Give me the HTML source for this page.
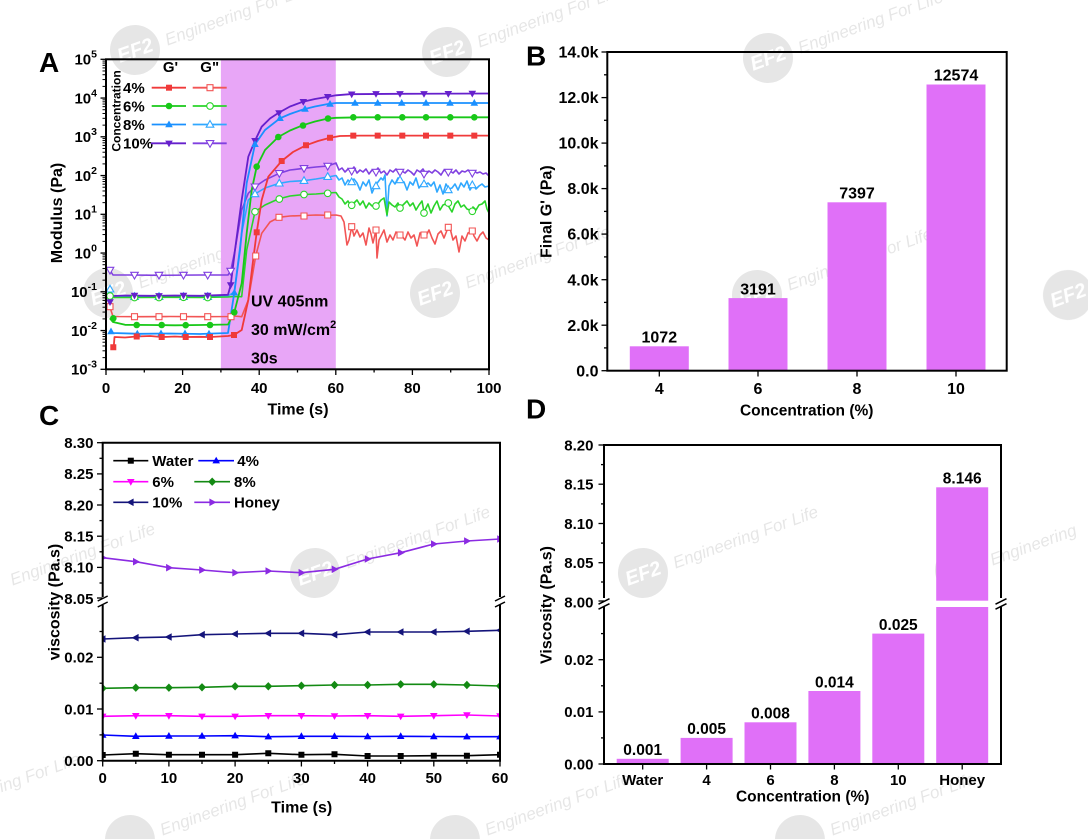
<!DOCTYPE html>
<html><head><meta charset="utf-8"><style>
html,body{margin:0;padding:0;background:#fff;}
svg{display:block;font-family:"Liberation Sans",Arial,sans-serif;font-weight:bold;}
</style></head><body>
<svg xmlns="http://www.w3.org/2000/svg" xmlns:xlink="http://www.w3.org/1999/xlink" width="1088" height="839" viewBox="0 0 1088 839">
<defs>
<path id="sq" d="M-3,-3h6v6h-6z"/>
<circle id="ci" cx="0" cy="0" r="3.3"/>
<path id="tu" d="M0,-4L3.8,2.7H-3.8Z"/>
<path id="td" d="M0,4L3.8,-2.7H-3.8Z"/>
<path id="dm" d="M0,-4.2L4,0L0,4.2L-4,0Z"/>
<path id="tl" d="M-4.2,0L2.8,-3.8V3.8Z"/>
<path id="tr" d="M4.2,0L-2.8,-3.8V3.8Z"/>
<g id="lm" stroke="#000" stroke-width="1">
<line x1="102.5" x2="106" y1="-11.66" y2="-11.66"/><line x1="102.5" x2="106" y1="-18.49" y2="-18.49"/>
<line x1="102.5" x2="106" y1="-23.33" y2="-23.33"/><line x1="102.5" x2="106" y1="-27.09" y2="-27.09"/>
<line x1="102.5" x2="106" y1="-30.15" y2="-30.15"/><line x1="102.5" x2="106" y1="-32.75" y2="-32.75"/>
<line x1="102.5" x2="106" y1="-34.99" y2="-34.99"/><line x1="102.5" x2="106" y1="-36.98" y2="-36.98"/>
</g>
<clipPath id="clipA"><rect x="106" y="59.3" width="383" height="310"/></clipPath>
<clipPath id="clipC"><rect x="102.7" y="442.7" width="397.3" height="318"/></clipPath>
</defs>

<!-- watermarks -->
<g opacity="0.1" font-style="italic" font-weight="normal">
<g transform="translate(135,50) rotate(-20)"><circle r="25" fill="#000"/><text y="7" text-anchor="middle" font-size="20" font-weight="bold" fill="#fff">EF2</text><text x="32" y="7" font-size="17" fill="#000">Engineering For Life</text></g>
<g transform="translate(447,52) rotate(-20)"><circle r="25" fill="#000"/><text y="7" text-anchor="middle" font-size="20" font-weight="bold" fill="#fff">EF2</text><text x="32" y="7" font-size="17" fill="#000">Engineering For Life</text></g>
<g transform="translate(768,58) rotate(-20)"><circle r="25" fill="#000"/><text y="7" text-anchor="middle" font-size="20" font-weight="bold" fill="#fff">EF2</text><text x="32" y="7" font-size="17" fill="#000">Engineering For Life</text></g>
<g transform="translate(1068,295) rotate(-20)"><circle r="25" fill="#000"/><text y="7" text-anchor="middle" font-size="20" font-weight="bold" fill="#fff">EF2</text></g>
<g transform="translate(108,293) rotate(-20)"><circle r="25" fill="#000"/><text y="7" text-anchor="middle" font-size="20" font-weight="bold" fill="#fff">EF2</text><text x="32" y="7" font-size="17" fill="#000">Engineering For Life</text></g>
<g transform="translate(435,293) rotate(-20)"><circle r="25" fill="#000"/><text y="7" text-anchor="middle" font-size="20" font-weight="bold" fill="#fff">EF2</text><text x="32" y="7" font-size="17" fill="#000">Engineering For Life</text></g>
<g transform="translate(757,295) rotate(-20)"><circle r="25" fill="#000"/><text y="7" text-anchor="middle" font-size="20" font-weight="bold" fill="#fff">EF2</text><text x="32" y="7" font-size="17" fill="#000">Engineering For Life</text></g>
<g transform="translate(-20,590) rotate(-20)"><text x="32" y="7" font-size="17" fill="#000">Engineering For Life</text></g>
<g transform="translate(315,573) rotate(-20)"><circle r="25" fill="#000"/><text y="7" text-anchor="middle" font-size="20" font-weight="bold" fill="#fff">EF2</text><text x="32" y="7" font-size="17" fill="#000">Engineering For Life</text></g>
<g transform="translate(643,573) rotate(-20)"><circle r="25" fill="#000"/><text y="7" text-anchor="middle" font-size="20" font-weight="bold" fill="#fff">EF2</text><text x="32" y="7" font-size="17" fill="#000">Engineering For Life</text></g>
<g transform="translate(960,570) rotate(-20)"><circle r="25" fill="#000"/><text y="7" text-anchor="middle" font-size="20" font-weight="bold" fill="#fff">EF2</text><text x="32" y="7" font-size="17" fill="#000">Engineering</text></g>
<g transform="translate(-95,820) rotate(-20)"><text x="32" y="7" font-size="17" fill="#000">Engineering For Life</text></g>
<g transform="translate(130,840) rotate(-20)"><circle r="25" fill="#000"/><text x="32" y="7" font-size="17" fill="#000">Engineering For Life</text></g>
<g transform="translate(455,840) rotate(-20)"><circle r="25" fill="#000"/><text x="32" y="7" font-size="17" fill="#000">Engineering For Life</text></g>
<g transform="translate(800,840) rotate(-20)"><circle r="25" fill="#000"/><text x="32" y="7" font-size="17" fill="#000">Engineering For Life</text></g>
</g>

<!-- ================= PANEL A ================= -->
<rect x="220.9" y="59.3" width="114.9" height="310" fill="#e8a6f7"/>
<g clip-path="url(#clipA)" fill="none" stroke-width="1.6" stroke-linejoin="round">
<polyline stroke="#8040e0" points="109.8,270 113,275 130,275 160,275.3 200,275 228,275 230.7,271 235,250 241.7,210 248.3,193.3 255,186.7 265,180 279.3,173.3 290,170 304,168.3 316,167 328,166 336,163 339,170 342,168 345,172 348,169 351,171 354,167 357,173 360,170 363,172 366,169 369,174 372,170 375,172 378,168 381,173 384,171 387,175 390,170 393,172 396,169 399,174 402,171 405,173 408,170 411,172 414,175 417,170 420,172 423,169 426,174 429,171 432,173 435,170 438,172 441,175 444,170 447,172 450,171 453,173 456,170 459,174 462,171 465,172 468,170 471,173 474,171 477,173 480,172 483,174 486,173 489,176"/>
<polyline stroke="#30a8ff" points="109.8,289.3 113,296 140,296.7 170,296.5 200,296.8 228,296 234.3,292 241.7,233 248.3,200 255,194 265,188 279.3,183.3 290,181.5 304,180.7 316,179 328,177 336,175.5 339,180 342,178 345,185 348,180 351,183 354,179 357,183 360,190 363,182 366,186 369,180 372,193 375,186 378,182 381,178 383,180 385,175 387,216 389,186 392,180 395,184 398,178 401,181 404,182 407,190 410,182 413,185 416,178 419,188 422,184 425,185 428,183 431,186 434,182 437,192 440,185 443,194 446,184 449,189 452,188 455,184 458,190 461,183 464,187 467,181 470,190 473,185 476,189 479,186 482,184 485,187 489,186"/>
<polyline stroke="#2ad42a" points="109.8,296 113,297.5 140,297.5 170,297.3 200,297.5 228,297 234.3,296.5 241.7,296.7 246.7,250 255,211.7 265,205 278.3,199 290,196 304,194.5 316,194 328,193 336,192.5 339,197 342,199 345,204 348,201 351,206 354,203 357,200 360,205 363,201 366,208 369,203 372,206 376,206 378,204 381,200 384,198 387,215 389,202 392,205 395,207 398,203 400,208 404,204 407,201 410,206 413,203 416,210 419,205 422,201 424,212 428,204 431,213 434,206 437,201 440,210 443,205 448,203 449,207 452,212 455,204 458,201 461,207 464,205 467,209 472,211 473,207 476,210 479,205 482,204 485,201 487,209 489,213"/>
<polyline stroke="#f25555" points="109.8,306.7 113,316.5 140,316.7 170,316.5 200,316.7 228,316.5 234,316 241.7,316.7 248.3,300 255.7,256 261.7,233.3 270,222 279,217.3 290,216 304,215.5 316,215 328,215.3 336,215 341,216 344,222 347,245 349,240 351.7,227 354,236 357,230 360,237 363,233 366,245 369,228 371,234 373,243 376,230 377,258 379,240 381,236 384,230 387,242 390,235 393,240 396,232 400,235 402,236 405,240 408,232 411,238 414,235 417,246 420,233 424,235 426,236 429,230 432,238 435,244 438,234 441,231 444,238 448.3,227 450,228 453,240 456,236 459,252 462,236 465,241 468,233 472.3,231 474,236 477,241 480,235 483,232 486,238 489,240"/>
<polyline stroke="#6620cc" stroke-width="1.8" points="109.8,303 113,296 125,295.5 150,295.8 175,295.5 200,295.8 228,294.8 230.7,285 235,250 241.7,200 248.3,156.7 255,140.7 261.7,126.7 270,118.5 278.3,113 290,106.5 303,101.7 315,99 328,96.7 336,95.3 350,94.2 400,93.8 489,93.5"/>
<polyline stroke="#1a90ff" stroke-width="1.8" points="109.8,331 113,333 140,333.8 170,333.5 200,334 228,333 234.3,292.7 240,250 246.7,183 255,144.3 265,130 280,118.3 290,114 303,109.5 315,106.5 328,104 336,103 360,103 489,103"/>
<polyline stroke="#18c818" stroke-width="1.8" points="109.8,318.3 113,322 125,324.8 150,325 175,325.3 200,325 228,324.5 234.3,312.3 241.7,283.3 246.7,233 251.7,190 256.7,166.7 265,150 278.3,137 290,130.5 303,125.2 315,121.5 328,118.5 336,117.8 360,117.3 489,117.3"/>
<polyline stroke="#f03a3a" stroke-width="1.8" points="113.7,347.3 114.5,337 125,337.5 136.6,336.5 150,336 161.7,337 175,336.5 185.7,337 200,336.8 210,337 228,336 234,335 241.7,330 248.3,300 252.3,266.7 256.7,232.3 261.7,200 268.3,176.7 281.7,161 293,152 306,145.3 318,141 330,137.7 340,136 360,135.6 489,135.6"/>
</g>
<g clip-path="url(#clipA)">
<g fill="#fff" stroke="#8040e0" stroke-width="1.1">
<use href="#td" x="110" y="270"/><use href="#td" x="134.5" y="275"/><use href="#td" x="159" y="275"/><use href="#td" x="183.5" y="275"/><use href="#td" x="207.7" y="275"/><use href="#td" x="230.7" y="271"/><use href="#td" x="255" y="186.7"/><use href="#td" x="279.3" y="173.3"/><use href="#td" x="304" y="168.3"/><use href="#td" x="327.7" y="166"/><use href="#td" x="351.7" y="171"/><use href="#td" x="376" y="172"/><use href="#td" x="400" y="172"/><use href="#td" x="424" y="174"/><use href="#td" x="448.3" y="172"/><use href="#td" x="472.3" y="173"/>
</g>
<g fill="#fff" stroke="#30a8ff" stroke-width="1.1">
<use href="#tu" x="110" y="289.3"/><use href="#tu" x="134.5" y="296.7"/><use href="#tu" x="159" y="296.7"/><use href="#tu" x="183.5" y="296.7"/><use href="#tu" x="207.7" y="296.7"/><use href="#tu" x="255" y="194"/><use href="#tu" x="279.3" y="183.3"/><use href="#tu" x="304" y="180.7"/><use href="#tu" x="327.7" y="176.7"/><use href="#tu" x="351.7" y="182"/><use href="#tu" x="376" y="186"/><use href="#tu" x="400" y="180"/><use href="#tu" x="424" y="184"/><use href="#tu" x="448.3" y="190"/><use href="#tu" x="472.3" y="185"/>
</g>
<g fill="#fff" stroke="#2ad42a" stroke-width="1.1">
<use href="#ci" x="110" y="296"/><use href="#ci" x="134.5" y="297.5"/><use href="#ci" x="159" y="297.5"/><use href="#ci" x="183.5" y="297.3"/><use href="#ci" x="207.7" y="297.5"/><use href="#ci" x="255" y="211.7"/><use href="#ci" x="279.3" y="199"/><use href="#ci" x="304" y="194.5"/><use href="#ci" x="327.7" y="193.3"/><use href="#ci" x="351.7" y="205.3"/><use href="#ci" x="376" y="206"/><use href="#ci" x="400" y="208"/><use href="#ci" x="424" y="213"/><use href="#ci" x="448.3" y="203"/><use href="#ci" x="472.3" y="211.3"/>
</g>
<g fill="#fff" stroke="#f25555" stroke-width="1.1">
<use href="#sq" x="110" y="306.7"/><use href="#sq" x="134.5" y="316.7"/><use href="#sq" x="159" y="316.7"/><use href="#sq" x="183.5" y="316.7"/><use href="#sq" x="207.7" y="316.7"/><use href="#sq" x="231" y="316.7"/><use href="#sq" x="255.7" y="256"/><use href="#sq" x="279" y="217.3"/><use href="#sq" x="304" y="216"/><use href="#sq" x="327.7" y="215"/><use href="#sq" x="351.7" y="226.7"/><use href="#sq" x="376" y="230"/><use href="#sq" x="400" y="235"/><use href="#sq" x="424" y="235"/><use href="#sq" x="448.3" y="227.3"/><use href="#sq" x="472.3" y="231"/>
</g>
<g fill="#6620cc">
<use href="#td" x="110" y="302"/><use href="#td" x="134.5" y="295.5"/><use href="#td" x="159" y="295.8"/><use href="#td" x="183.5" y="295.5"/><use href="#td" x="207.7" y="295.5"/><use href="#td" x="230.7" y="285"/><use href="#td" x="255" y="140.7"/><use href="#td" x="279" y="113"/><use href="#td" x="303.3" y="101.7"/><use href="#td" x="327.7" y="96.7"/><use href="#td" x="351.7" y="94.2"/><use href="#td" x="376" y="93.8"/><use href="#td" x="400" y="93.8"/><use href="#td" x="424" y="93.8"/><use href="#td" x="448.3" y="93.7"/><use href="#td" x="472.3" y="93.5"/>
</g>
<g fill="#1a90ff">
<use href="#tu" x="111" y="331.5"/><use href="#tu" x="137.3" y="333.7"/><use href="#tu" x="161" y="333.5"/><use href="#tu" x="185" y="333.5"/><use href="#tu" x="209" y="333.8"/><use href="#tu" x="234.3" y="292.7"/><use href="#tu" x="255" y="144.3"/><use href="#tu" x="280" y="118.3"/><use href="#tu" x="305" y="109"/><use href="#tu" x="330" y="104"/><use href="#tu" x="355" y="103"/><use href="#tu" x="377.7" y="103"/><use href="#tu" x="401.7" y="103"/><use href="#tu" x="426" y="103"/><use href="#tu" x="450" y="103"/><use href="#tu" x="474.3" y="103"/>
</g>
<g fill="#18c818">
<use href="#ci" x="113.3" y="318.3"/><use href="#ci" x="136.7" y="325"/><use href="#ci" x="161.7" y="325"/><use href="#ci" x="185.7" y="325.2"/><use href="#ci" x="210" y="325"/><use href="#ci" x="234.3" y="312.3"/><use href="#ci" x="256.7" y="166.7"/><use href="#ci" x="278.3" y="137"/><use href="#ci" x="303" y="125.5"/><use href="#ci" x="328" y="118.5"/><use href="#ci" x="353.3" y="117.3"/><use href="#ci" x="377.7" y="117.3"/><use href="#ci" x="402.3" y="117.3"/><use href="#ci" x="426" y="117.3"/><use href="#ci" x="450.3" y="117.3"/><use href="#ci" x="474.3" y="117.3"/>
</g>
<g fill="#f03a3a">
<use href="#sq" x="113.3" y="347.3"/><use href="#sq" x="136.7" y="336.5"/><use href="#sq" x="161.7" y="337"/><use href="#sq" x="185.7" y="337"/><use href="#sq" x="210" y="337"/><use href="#sq" x="234" y="335"/><use href="#sq" x="256.7" y="232.3"/><use href="#sq" x="281.7" y="161"/><use href="#sq" x="306" y="145.3"/><use href="#sq" x="330" y="137.7"/><use href="#sq" x="353.3" y="135.6"/><use href="#sq" x="377.7" y="135.6"/><use href="#sq" x="402.3" y="135.6"/><use href="#sq" x="426" y="135.6"/><use href="#sq" x="450.3" y="135.6"/><use href="#sq" x="474.3" y="135.6"/>
</g>
</g>
<!-- A legend -->
<text x="170.5" y="72" font-size="15" text-anchor="middle">G'</text>
<text x="209.7" y="72" font-size="15" text-anchor="middle">G"</text>
<text transform="translate(120.5,111) rotate(-90)" font-size="12" text-anchor="middle">Concentration</text>
<g font-size="15">
<text x="123" y="93">4%</text><text x="123" y="111.3">6%</text><text x="123" y="129.8">8%</text><text x="123" y="148.6">10%</text>
</g>
<g stroke-width="1.8">
<line x1="151.7" x2="186" y1="87.7" y2="87.7" stroke="#f03a3a"/><line x1="192.7" x2="226.7" y1="87.7" y2="87.7" stroke="#f25555"/>
<line x1="151.7" x2="186" y1="106" y2="106" stroke="#18c818"/><line x1="192.7" x2="226.7" y1="106" y2="106" stroke="#2ad42a"/>
<line x1="151.7" x2="186" y1="124.5" y2="124.5" stroke="#1a90ff"/><line x1="192.7" x2="226.7" y1="124.5" y2="124.5" stroke="#30a8ff"/>
<line x1="151" x2="186" y1="143.3" y2="143.3" stroke="#6620cc"/><line x1="192.7" x2="226.7" y1="143.3" y2="143.3" stroke="#8040e0"/>
</g>
<use href="#sq" x="169" y="87.7" fill="#f03a3a"/><use href="#sq" x="210" y="87.7" fill="#fff" stroke="#f25555" stroke-width="1.1"/>
<use href="#ci" x="169" y="106" fill="#18c818"/><use href="#ci" x="210" y="106" fill="#fff" stroke="#2ad42a" stroke-width="1.1"/>
<use href="#tu" x="169" y="124.5" fill="#1a90ff"/><use href="#tu" x="210" y="124.5" fill="#fff" stroke="#30a8ff" stroke-width="1.1"/>
<use href="#td" x="169" y="143.3" fill="#6620cc"/><use href="#td" x="210" y="143.3" fill="#fff" stroke="#8040e0" stroke-width="1.1"/>
<!-- UV text -->
<text x="251" y="306.7" font-size="16">UV 405nm</text>
<text x="251" y="335" font-size="16">30 mW/cm<tspan dy="-7" font-size="11">2</tspan></text>
<text x="251" y="363.3" font-size="16">30s</text>
<!-- A axes -->
<rect x="106" y="59.3" width="383" height="310" fill="none" stroke="#000" stroke-width="2"/>
<g stroke="#000" stroke-width="1.3">
<line x1="100.5" x2="106" y1="59.3" y2="59.3"/><line x1="100.5" x2="106" y1="98.05" y2="98.05"/><line x1="100.5" x2="106" y1="136.8" y2="136.8"/><line x1="100.5" x2="106" y1="175.55" y2="175.55"/><line x1="100.5" x2="106" y1="214.3" y2="214.3"/><line x1="100.5" x2="106" y1="253.05" y2="253.05"/><line x1="100.5" x2="106" y1="291.8" y2="291.8"/><line x1="100.5" x2="106" y1="330.55" y2="330.55"/><line x1="100.5" x2="106" y1="369.3" y2="369.3"/>
<line x1="106" x2="106" y1="369" y2="375"/><line x1="182.6" x2="182.6" y1="369" y2="375"/><line x1="259.2" x2="259.2" y1="369" y2="375"/><line x1="335.8" x2="335.8" y1="369" y2="375"/><line x1="412.4" x2="412.4" y1="369" y2="375"/><line x1="489" x2="489" y1="369" y2="375"/>
<line x1="144.3" x2="144.3" y1="369" y2="372.5"/><line x1="220.9" x2="220.9" y1="369" y2="372.5"/><line x1="297.5" x2="297.5" y1="369" y2="372.5"/><line x1="374.1" x2="374.1" y1="369" y2="372.5"/><line x1="450.7" x2="450.7" y1="369" y2="372.5"/>
</g>
<use href="#lm" y="369.3"/><use href="#lm" y="330.55"/><use href="#lm" y="291.8"/><use href="#lm" y="253.05"/><use href="#lm" y="214.3"/><use href="#lm" y="175.55"/><use href="#lm" y="136.8"/><use href="#lm" y="98.05"/>
<g font-size="15" text-anchor="end">
<text x="97" y="64.5">10<tspan dy="-7" font-size="10.5">5</tspan></text>
<text x="97" y="103.3">10<tspan dy="-7" font-size="10.5">4</tspan></text>
<text x="97" y="142">10<tspan dy="-7" font-size="10.5">3</tspan></text>
<text x="97" y="180.8">10<tspan dy="-7" font-size="10.5">2</tspan></text>
<text x="97" y="219.5">10<tspan dy="-7" font-size="10.5">1</tspan></text>
<text x="97" y="258.3">10<tspan dy="-7" font-size="10.5">0</tspan></text>
<text x="97" y="297">10<tspan dy="-7" font-size="10.5">-1</tspan></text>
<text x="97" y="335.8">10<tspan dy="-7" font-size="10.5">-2</tspan></text>
<text x="97" y="374.5">10<tspan dy="-7" font-size="10.5">-3</tspan></text>
</g>
<g font-size="15" text-anchor="middle">
<text x="106" y="393">0</text><text x="182.6" y="393">20</text><text x="259.2" y="393">40</text><text x="335.8" y="393">60</text><text x="412.4" y="393">80</text><text x="489" y="393">100</text>
</g>
<text x="298" y="414.5" font-size="16" text-anchor="middle">Time (s)</text>
<text transform="translate(62,213) rotate(-90)" font-size="16" text-anchor="middle">Modulus (Pa)</text>
<text x="39" y="72" font-size="28">A</text>

<!-- ================= PANEL B ================= -->
<g fill="#e070f8">
<rect x="629.8" y="346.3" width="59" height="24.4"/>
<rect x="728.5" y="298.1" width="59" height="72.6"/>
<rect x="827.5" y="202.3" width="59" height="168.4"/>
<rect x="926.5" y="84.5" width="59" height="286.2"/>
</g>
<rect x="607.3" y="52" width="399.4" height="318.7" fill="none" stroke="#000" stroke-width="2"/>
<g stroke="#000" stroke-width="1.3">
<line x1="601.5" x2="607.3" y1="370.7" y2="370.7"/><line x1="601.5" x2="607.3" y1="325.2" y2="325.2"/><line x1="601.5" x2="607.3" y1="279.7" y2="279.7"/><line x1="601.5" x2="607.3" y1="234.1" y2="234.1"/><line x1="601.5" x2="607.3" y1="188.6" y2="188.6"/><line x1="601.5" x2="607.3" y1="143.1" y2="143.1"/><line x1="601.5" x2="607.3" y1="97.6" y2="97.6"/><line x1="601.5" x2="607.3" y1="52" y2="52"/>
<line x1="604" x2="607.3" y1="347.9" y2="347.9"/><line x1="604" x2="607.3" y1="302.4" y2="302.4"/><line x1="604" x2="607.3" y1="256.9" y2="256.9"/><line x1="604" x2="607.3" y1="211.4" y2="211.4"/><line x1="604" x2="607.3" y1="165.9" y2="165.9"/><line x1="604" x2="607.3" y1="120.3" y2="120.3"/><line x1="604" x2="607.3" y1="74.8" y2="74.8"/>
<line x1="659.3" x2="659.3" y1="370.7" y2="376.5"/><line x1="758" x2="758" y1="370.7" y2="376.5"/><line x1="857" x2="857" y1="370.7" y2="376.5"/><line x1="956" x2="956" y1="370.7" y2="376.5"/>
</g>
<g font-size="16" text-anchor="end">
<text x="598.5" y="376.3">0.0</text><text x="598.5" y="330.8">2.0k</text><text x="598.5" y="285.3">4.0k</text><text x="598.5" y="239.7">6.0k</text><text x="598.5" y="194.2">8.0k</text><text x="598.5" y="148.7">10.0k</text><text x="598.5" y="103.2">12.0k</text><text x="598.5" y="57.6">14.0k</text>
</g>
<g font-size="16" text-anchor="middle">
<text x="659.3" y="394">4</text><text x="758" y="394">6</text><text x="857" y="394">8</text><text x="956" y="394">10</text>
<text x="659.3" y="342.5">1072</text><text x="758" y="294.3">3191</text><text x="857" y="198.5">7397</text><text x="956" y="80.7">12574</text>
</g>
<text x="806.7" y="415.5" font-size="15.5" text-anchor="middle">Concentration (%)</text>
<text transform="translate(551.5,211.7) rotate(-90)" font-size="16" text-anchor="middle">Final G' (Pa)</text>
<text x="526" y="65.5" font-size="28">B</text>

<!-- ================= PANEL C ================= -->
<g clip-path="url(#clipC)">
<g fill="none" stroke-width="1.6" stroke-linejoin="round">
<polyline stroke="#8b2be2" points="102.7,557.7 135.8,561.7 168.9,567.7 202,570 235.1,572.7 268.3,571 301.4,572.7 334.5,569.3 367.6,559 400.7,552.7 433.8,544 466.9,541 500,539"/>
<polyline stroke="#14147a" points="102.7,639 135.8,637.7 168.9,637 202,634.7 235.1,634 268.3,633.3 301.4,633.3 334.5,634.7 367.6,632 400.7,632 433.8,632 466.9,631.3 500,630.3"/>
<polyline stroke="#138a13" points="102.7,688.3 135.8,687.7 168.9,687.7 202,687.3 235.1,686.3 268.3,686.3 301.4,685.7 334.5,685 367.6,685 400.7,684.3 433.8,684.3 466.9,685 500,686"/>
<polyline stroke="#ff00ff" points="102.7,716.3 135.8,715.7 168.9,715.7 202,716.3 235.1,716.3 268.3,715.7 301.4,715.7 334.5,716 367.6,715.7 400.7,716.3 433.8,715.7 466.9,715 500,716"/>
<polyline stroke="#0000ff" points="102.7,735 135.8,736.3 168.9,736 202,736 235.1,735.7 268.3,736.7 301.4,736.3 334.5,736.3 367.6,736.5 400.7,736.3 433.8,736.5 466.9,736.7 500,736.7"/>
<polyline stroke="#000" points="102.7,755 135.8,753.7 168.9,754.7 202,754.7 235.1,754.7 268.3,753.3 301.4,754.7 334.5,754.3 367.6,756 400.7,756 433.8,755.7 466.9,755.7 500,754.7"/>
</g>
<g fill="#8b2be2">
<use href="#tr" x="102.7" y="557.7"/><use href="#tr" x="135.8" y="561.7"/><use href="#tr" x="168.9" y="567.7"/><use href="#tr" x="202" y="570"/><use href="#tr" x="235.1" y="572.7"/><use href="#tr" x="268.3" y="571"/><use href="#tr" x="301.4" y="572.7"/><use href="#tr" x="334.5" y="569.3"/><use href="#tr" x="367.6" y="559"/><use href="#tr" x="400.7" y="552.7"/><use href="#tr" x="433.8" y="544"/><use href="#tr" x="466.9" y="541"/><use href="#tr" x="500" y="539"/>
</g>
<g fill="#14147a">
<use href="#tl" x="102.7" y="639"/><use href="#tl" x="135.8" y="637.7"/><use href="#tl" x="168.9" y="637"/><use href="#tl" x="202" y="634.7"/><use href="#tl" x="235.1" y="634"/><use href="#tl" x="268.3" y="633.3"/><use href="#tl" x="301.4" y="633.3"/><use href="#tl" x="334.5" y="634.7"/><use href="#tl" x="367.6" y="632"/><use href="#tl" x="400.7" y="632"/><use href="#tl" x="433.8" y="632"/><use href="#tl" x="466.9" y="631.3"/><use href="#tl" x="500" y="630.3"/>
</g>
<g fill="#138a13">
<use href="#dm" x="102.7" y="688.3"/><use href="#dm" x="135.8" y="687.7"/><use href="#dm" x="168.9" y="687.7"/><use href="#dm" x="202" y="687.3"/><use href="#dm" x="235.1" y="686.3"/><use href="#dm" x="268.3" y="686.3"/><use href="#dm" x="301.4" y="685.7"/><use href="#dm" x="334.5" y="685"/><use href="#dm" x="367.6" y="685"/><use href="#dm" x="400.7" y="684.3"/><use href="#dm" x="433.8" y="684.3"/><use href="#dm" x="466.9" y="685"/><use href="#dm" x="500" y="686"/>
</g>
<g fill="#ff00ff">
<use href="#td" x="102.7" y="716.3"/><use href="#td" x="135.8" y="715.7"/><use href="#td" x="168.9" y="715.7"/><use href="#td" x="202" y="716.3"/><use href="#td" x="235.1" y="716.3"/><use href="#td" x="268.3" y="715.7"/><use href="#td" x="301.4" y="715.7"/><use href="#td" x="334.5" y="716"/><use href="#td" x="367.6" y="715.7"/><use href="#td" x="400.7" y="716.3"/><use href="#td" x="433.8" y="715.7"/><use href="#td" x="466.9" y="715"/><use href="#td" x="500" y="716"/>
</g>
<g fill="#0000ff">
<use href="#tu" x="102.7" y="735"/><use href="#tu" x="135.8" y="736.3"/><use href="#tu" x="168.9" y="736"/><use href="#tu" x="202" y="736"/><use href="#tu" x="235.1" y="735.7"/><use href="#tu" x="268.3" y="736.7"/><use href="#tu" x="301.4" y="736.3"/><use href="#tu" x="334.5" y="736.3"/><use href="#tu" x="367.6" y="736.5"/><use href="#tu" x="400.7" y="736.3"/><use href="#tu" x="433.8" y="736.5"/><use href="#tu" x="466.9" y="736.7"/><use href="#tu" x="500" y="736.7"/>
</g>
<g fill="#000">
<use href="#sq" x="102.7" y="755"/><use href="#sq" x="135.8" y="753.7"/><use href="#sq" x="168.9" y="754.7"/><use href="#sq" x="202" y="754.7"/><use href="#sq" x="235.1" y="754.7"/><use href="#sq" x="268.3" y="753.3"/><use href="#sq" x="301.4" y="754.7"/><use href="#sq" x="334.5" y="754.3"/><use href="#sq" x="367.6" y="756"/><use href="#sq" x="400.7" y="756"/><use href="#sq" x="433.8" y="755.7"/><use href="#sq" x="466.9" y="755.7"/><use href="#sq" x="500" y="754.7"/>
</g>
</g>
<!-- C legend -->
<g stroke-width="1.6">
<line x1="113.3" x2="148.3" y1="460.7" y2="460.7" stroke="#000"/><line x1="198.3" x2="234" y1="460.7" y2="460.7" stroke="#0000ff"/>
<line x1="113.3" x2="148.3" y1="481.7" y2="481.7" stroke="#ff00ff"/><line x1="194.3" x2="230" y1="481.7" y2="481.7" stroke="#138a13"/>
<line x1="113.3" x2="148.3" y1="502.3" y2="502.3" stroke="#14147a"/><line x1="194.3" x2="230" y1="502.3" y2="502.3" stroke="#8b2be2"/>
</g>
<use href="#sq" x="130.8" y="460.7" fill="#000"/><use href="#tu" x="216.2" y="460.7" fill="#0000ff"/>
<use href="#td" x="130.8" y="481.7" fill="#ff00ff"/><use href="#dm" x="212.2" y="481.7" fill="#138a13"/>
<use href="#tl" x="130.8" y="502.3" fill="#14147a"/><use href="#tr" x="212.2" y="502.3" fill="#8b2be2"/>
<g font-size="15">
<text x="152.3" y="466">Water</text><text x="237.3" y="466">4%</text>
<text x="152.3" y="487">6%</text><text x="234" y="487">8%</text>
<text x="152.3" y="507.6">10%</text><text x="234" y="507.6">Honey</text>
</g>
<!-- C axes -->
<g stroke="#000" stroke-width="2" fill="none">
<line x1="101.7" x2="501" y1="442.7" y2="442.7"/>
<line x1="101.7" x2="501" y1="760.7" y2="760.7"/>
<line x1="102.7" x2="102.7" y1="442.7" y2="597"/>
<line x1="102.7" x2="102.7" y1="605" y2="760.7"/>
<line x1="500" x2="500" y1="442.7" y2="597"/>
<line x1="500" x2="500" y1="605" y2="760.7"/>
</g>
<g stroke="#000" stroke-width="1.5">
<line x1="97.7" y1="601" x2="107.7" y2="596"/><line x1="97.7" y1="607" x2="107.7" y2="602"/>
<line x1="495" y1="601" x2="505" y2="596"/><line x1="495" y1="607" x2="505" y2="602"/>
</g>
<g stroke="#000" stroke-width="1.3">
<line x1="97" x2="102.7" y1="442.7" y2="442.7"/><line x1="97" x2="102.7" y1="473.9" y2="473.9"/><line x1="97" x2="102.7" y1="505" y2="505"/><line x1="97" x2="102.7" y1="536.2" y2="536.2"/><line x1="97" x2="102.7" y1="567.4" y2="567.4"/><line x1="97" x2="102.7" y1="598" y2="598"/>
<line x1="99.5" x2="102.7" y1="458.3" y2="458.3"/><line x1="99.5" x2="102.7" y1="489.5" y2="489.5"/><line x1="99.5" x2="102.7" y1="520.6" y2="520.6"/><line x1="99.5" x2="102.7" y1="551.8" y2="551.8"/><line x1="99.5" x2="102.7" y1="583" y2="583"/>
<line x1="97" x2="102.7" y1="657.3" y2="657.3"/><line x1="97" x2="102.7" y1="709" y2="709"/><line x1="97" x2="102.7" y1="760.7" y2="760.7"/>
<line x1="99.5" x2="102.7" y1="631.5" y2="631.5"/><line x1="99.5" x2="102.7" y1="683.2" y2="683.2"/><line x1="99.5" x2="102.7" y1="734.9" y2="734.9"/>
<line x1="102.7" x2="102.7" y1="760.7" y2="766.5"/><line x1="168.9" x2="168.9" y1="760.7" y2="766.5"/><line x1="235.1" x2="235.1" y1="760.7" y2="766.5"/><line x1="301.4" x2="301.4" y1="760.7" y2="766.5"/><line x1="367.6" x2="367.6" y1="760.7" y2="766.5"/><line x1="433.8" x2="433.8" y1="760.7" y2="766.5"/><line x1="500" x2="500" y1="760.7" y2="766.5"/>
<line x1="135.8" x2="135.8" y1="760.7" y2="764"/><line x1="202" x2="202" y1="760.7" y2="764"/><line x1="268.3" x2="268.3" y1="760.7" y2="764"/><line x1="334.5" x2="334.5" y1="760.7" y2="764"/><line x1="400.7" x2="400.7" y1="760.7" y2="764"/><line x1="466.9" x2="466.9" y1="760.7" y2="764"/>
</g>
<g font-size="15" text-anchor="end">
<text x="93.5" y="448">8.30</text><text x="93.5" y="479.2">8.25</text><text x="93.5" y="510.3">8.20</text><text x="93.5" y="541.5">8.15</text><text x="93.5" y="572.7">8.10</text><text x="93.5" y="604">8.05</text>
<text x="93.5" y="662.6">0.02</text><text x="93.5" y="714.3">0.01</text><text x="93.5" y="766">0.00</text>
</g>
<g font-size="15" text-anchor="middle">
<text x="102.7" y="783">0</text><text x="168.9" y="783">10</text><text x="235.1" y="783">20</text><text x="301.4" y="783">30</text><text x="367.6" y="783">40</text><text x="433.8" y="783">50</text><text x="500" y="783">60</text>
</g>
<text x="301.7" y="812.5" font-size="16" text-anchor="middle">Time (s)</text>
<text transform="translate(59.5,602) rotate(-90)" font-size="16" text-anchor="middle">viscosity (Pa.s)</text>
<text x="39" y="425" font-size="28">C</text>

<!-- ================= PANEL D ================= -->
<g fill="#e070f8">
<rect x="616.7" y="758.8" width="52" height="5.2"/>
<rect x="680.6" y="737.9" width="52" height="26.1"/>
<rect x="744.5" y="722.3" width="52" height="41.7"/>
<rect x="808.4" y="691" width="52" height="73"/>
<rect x="872.3" y="633.6" width="52" height="130.4"/>
<rect x="936.2" y="607" width="52" height="157"/>
<rect x="936.2" y="487.3" width="52" height="113.4"/>
</g>
<g stroke="#000" stroke-width="2" fill="none">
<line x1="603" x2="1002" y1="445" y2="445"/>
<line x1="603" x2="1002" y1="764" y2="764"/>
<line x1="604" x2="604" y1="445" y2="598"/>
<line x1="604" x2="604" y1="606.7" y2="764"/>
<line x1="1001" x2="1001" y1="445" y2="598"/>
<line x1="1001" x2="1001" y1="606.7" y2="764"/>
</g>
<g stroke="#000" stroke-width="1.5">
<line x1="598.5" y1="604.2" x2="609.5" y2="598.7"/><line x1="598.5" y1="609.2" x2="609.5" y2="603.7"/>
<line x1="995.5" y1="604.2" x2="1006.5" y2="598.7"/><line x1="995.5" y1="609.2" x2="1006.5" y2="603.7"/>
</g>
<g stroke="#000" stroke-width="1.3">
<line x1="598.5" x2="604" y1="445" y2="445"/><line x1="598.5" x2="604" y1="484.2" y2="484.2"/><line x1="598.5" x2="604" y1="523.5" y2="523.5"/><line x1="598.5" x2="604" y1="562.7" y2="562.7"/><line x1="598.5" x2="604" y1="601" y2="601"/>
<line x1="601" x2="604" y1="464.6" y2="464.6"/><line x1="601" x2="604" y1="503.9" y2="503.9"/><line x1="601" x2="604" y1="543.1" y2="543.1"/><line x1="601" x2="604" y1="582" y2="582"/>
<line x1="598.5" x2="604" y1="659.7" y2="659.7"/><line x1="598.5" x2="604" y1="711.9" y2="711.9"/><line x1="598.5" x2="604" y1="764" y2="764"/>
<line x1="601" x2="604" y1="633.6" y2="633.6"/><line x1="601" x2="604" y1="685.8" y2="685.8"/><line x1="601" x2="604" y1="737.9" y2="737.9"/>
<line x1="642.7" x2="642.7" y1="764" y2="769.5"/><line x1="706.6" x2="706.6" y1="764" y2="769.5"/><line x1="770.5" x2="770.5" y1="764" y2="769.5"/><line x1="834.4" x2="834.4" y1="764" y2="769.5"/><line x1="898.3" x2="898.3" y1="764" y2="769.5"/><line x1="962.2" x2="962.2" y1="764" y2="769.5"/>
</g>
<g font-size="15" text-anchor="end">
<text x="593.5" y="450.3">8.20</text><text x="593.5" y="489.5">8.15</text><text x="593.5" y="528.8">8.10</text><text x="593.5" y="568">8.05</text><text x="593.5" y="607.3">8.00</text>
<text x="593.5" y="665">0.02</text><text x="593.5" y="717.2">0.01</text><text x="593.5" y="769.3">0.00</text>
</g>
<g font-size="15" text-anchor="middle">
<text x="642.7" y="785">Water</text><text x="706.6" y="785">4</text><text x="770.5" y="785">6</text><text x="834.4" y="785">8</text><text x="898.3" y="785">10</text><text x="962.2" y="785">Honey</text>
</g>
<g font-size="15.5" text-anchor="middle">
<text x="642.7" y="755">0.001</text><text x="706.6" y="734.2">0.005</text><text x="770.5" y="718.6">0.008</text><text x="834.4" y="687.3">0.014</text><text x="898.3" y="629.9">0.025</text><text x="962.2" y="483.6">8.146</text>
</g>
<text x="802.7" y="801.7" font-size="15.5" text-anchor="middle">Concentration (%)</text>
<text transform="translate(551.5,605) rotate(-90)" font-size="16" text-anchor="middle">Viscosity (Pa.s)</text>
<text x="526" y="418.5" font-size="28">D</text>
</svg>
</body></html>
